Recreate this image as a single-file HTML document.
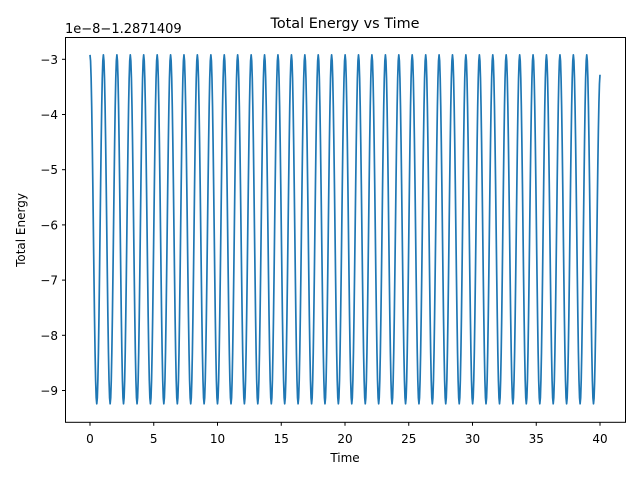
<!DOCTYPE html>
<html><head><meta charset="utf-8"><style>
html,body{margin:0;padding:0;background:#fff;}
svg text{font-family:"DejaVu Sans","Liberation Sans",sans-serif;fill:#000;}
</style></head><body>
<svg id="chart" width="640" height="480" viewBox="0 0 640 480" xmlns="http://www.w3.org/2000/svg">
<rect width="640" height="480" fill="#fff"/>
<text x="345" y="28" font-size="14.4" text-anchor="middle">Total Energy vs Time</text>
<text x="65" y="33" font-size="13">1e−8−1.2871409</text>
<text x="345" y="462" font-size="12" text-anchor="middle">Time</text>
<text transform="translate(25,230) rotate(-90)" font-size="12" text-anchor="middle">Total Energy</text>
<g id="plot"></g>
<rect x="65.5" y="37.5" width="560" height="384.8" fill="none" stroke="#000" stroke-width="1"/>
</svg>
<script>
const xTicks = [0,5,10,15,20,25,30,35,40];
const yTicks = [-3,-4,-5,-6,-7,-8,-9];
const peakTimes = [0,1.05,2.11,3.16,4.21,5.27,6.32,7.37,8.42,9.48,10.53,11.58,12.64,13.69,14.74,15.80,16.85,17.90,18.95,20.01,21.06,22.11,23.17,24.22,25.27,26.33,27.38,28.43,29.48,30.54,31.59,32.64,33.70,34.75,35.80,36.86,37.91,38.96];
const troughTimes = [0.53,1.58,2.63,3.69,4.74,5.79,6.85,7.90,8.95,10.00,11.06,12.11,13.16,14.22,15.27,16.32,17.38,18.43,19.48,20.53,21.59,22.64,23.69,24.75,25.80,26.85,27.90,28.96,30.01,31.06,32.12,33.17,34.22,35.28,36.33,37.38,38.44,39.49];
const peakValue = -2.92;
const troughValue = -9.24;
const endTime = 40;
const endValue = -3.28;

const NS = "http://www.w3.org/2000/svg";
const X0 = 90, X1 = 600, Y0 = 59.3, Y1 = 390.5;
const BOTTOM = 422.3;
function xs(t){ return X0 + (t - 0) * (X1 - X0) / 40; }
function ys(v){ return Y0 + (v - (-3)) * (Y1 - Y0) / (-6); }
const plot = document.getElementById('plot');

xTicks.forEach(t => {
  const x = xs(t);
  const l = document.createElementNS(NS,'line');
  l.setAttribute('x1',x); l.setAttribute('x2',x); l.setAttribute('y1',BOTTOM); l.setAttribute('y2',BOTTOM+3.5);
  l.setAttribute('stroke','#000');
  
  
  plot.appendChild(l);
  const tx = document.createElementNS(NS,'text');
  tx.setAttribute('x',x); tx.setAttribute('y',443); tx.setAttribute('font-size','12'); tx.setAttribute('text-anchor','middle');
  tx.textContent = t;
  
  
  plot.appendChild(tx);
});
yTicks.forEach(v => {
  const y = ys(v);
  const l = document.createElementNS(NS,'line');
  l.setAttribute('x1',62); l.setAttribute('x2',65.5); l.setAttribute('y1',y); l.setAttribute('y2',y);
  l.setAttribute('stroke','#000');
  
  
  plot.appendChild(l);
  const tx = document.createElementNS(NS,'text');
  tx.setAttribute('x',58); tx.setAttribute('y',y+4.5); tx.setAttribute('font-size','12'); tx.setAttribute('text-anchor','end');
  tx.textContent = '\u2212' + Math.abs(v);
  
  
  plot.appendChild(tx);
});

const ext = [];
for (let i = 0; i < peakTimes.length; i++) {
  ext.push([peakTimes[i], peakValue]);
  if (i < troughTimes.length) ext.push([troughTimes[i], troughValue]);
}
ext.push([endTime, endValue]);
let d = 'M' + xs(ext[0][0]).toFixed(2) + ',' + ys(ext[0][1]).toFixed(2);
for (let i = 0; i < ext.length - 1; i++) {
  const [t0, v0] = ext[i], [t1, v1] = ext[i+1];
  const last = i === ext.length - 2;
  const N = 12;
  for (let k = 1; k <= N; k++) {
    const f = k / N;
    let t, v;
    if (last) {
      const span = (t1 - t0);
      const full = (peakTimes[1] - peakTimes[0]) / 2;
      const ph = f * span / full;
      t = t0 + f * span;
      const s = (1 - Math.cos(Math.PI * ph)) / 2;
      const sEnd = (1 - Math.cos(Math.PI * span / full)) / 2;
      v = v0 + (v1 - v0) * s / sEnd;
    } else {
      t = t0 + (t1 - t0) * f;
      v = v0 + (v1 - v0) * (1 - Math.cos(Math.PI * f)) / 2;
    }
    d += 'L' + xs(t).toFixed(2) + ',' + ys(v).toFixed(2);
  }
}
const p = document.createElementNS(NS,'path');
p.setAttribute('d', d);
p.setAttribute('fill','none');
p.setAttribute('stroke','#1f77b4');
p.setAttribute('stroke-width','1.7');
p.setAttribute('stroke-linejoin','round');


plot.appendChild(p);
</script>
</body></html>
